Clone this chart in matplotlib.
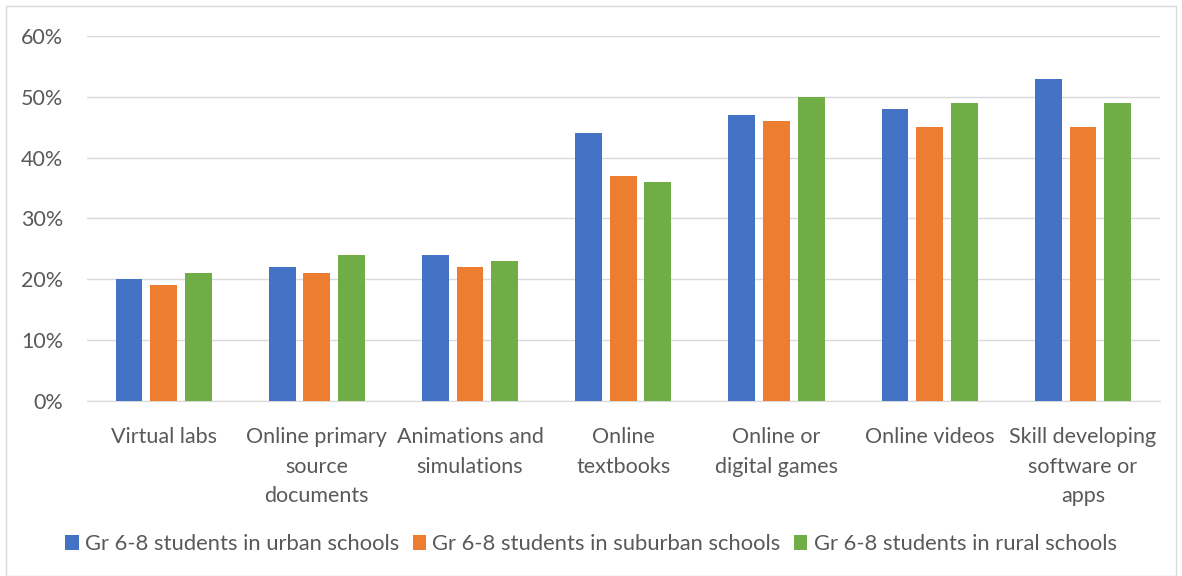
import numpy as np
import matplotlib.pyplot as plt
from matplotlib.patches import Rectangle
from matplotlib.ticker import FuncFormatter

plt.rcParams['font.family'] = ['Lato', 'DejaVu Sans']

categories = ['Virtual labs', 'Online primary\nsource\ndocuments', 'Animations and\nsimulations',
              'Online\ntextbooks', 'Online or\ndigital games', 'Online videos',
              'Skill developing\nsoftware or\napps']
urban = [20, 22, 24, 44, 47, 48, 53]
suburban = [19, 21, 22, 37, 46, 45, 45]
rural = [21, 24, 23, 36, 50, 49, 49]
series = ['Gr 6-8 students in urban schools', 'Gr 6-8 students in suburban schools',
          'Gr 6-8 students in rural schools']
colors = ['#4472C4', '#ED7D31', '#70AD47']

fig = plt.figure(figsize=(11.82, 5.76), dpi=100)
ax = fig.add_axes([0.0736, 0.304, 0.9074, 0.6335])

x = np.arange(len(categories))
step = 0.226
w = 0.175
for i, (vals, name) in enumerate(zip([urban, suburban, rural], series)):
    ax.bar(x + (i - 1) * step, vals, w, color=colors[i], label=name, zorder=3)

ax.set_xlim(-0.5, len(categories) - 0.5)
ax.set_ylim(0, 60)
ax.set_yticks(range(0, 61, 10))
ax.yaxis.set_major_formatter(FuncFormatter(lambda v, p: f'{int(v)}%'))
ax.grid(axis='y', color='#D9D9D9', linewidth=1, zorder=0)
for s in ['top', 'right', 'left']:
    ax.spines[s].set_visible(False)
ax.spines['bottom'].set_color('#D9D9D9')
ax.set_xticks(x)
ax.set_xticklabels(categories, fontsize=15.5, color='#595959', linespacing=1.6)
ax.tick_params(axis='both', length=0, labelcolor='#595959')
ax.tick_params(axis='y', labelsize=15.5, pad=17)
ax.tick_params(axis='x', pad=19)

ax.legend(loc='center', bbox_to_anchor=(0.5, 1 - 544 / 576), bbox_transform=fig.transFigure,
          ncol=3, frameon=False, fontsize=15.8, labelcolor='#595959',
          handlelength=0.6, handleheight=0.7, handletextpad=0.3, columnspacing=0.6)

fig.patches.append(Rectangle((6 / 1182, 0), 1 - 12 / 1182, 1 - 6 / 576, transform=fig.transFigure,
                             fill=False, edgecolor='#D9D9D9', linewidth=1))

plt.savefig('out.png')
